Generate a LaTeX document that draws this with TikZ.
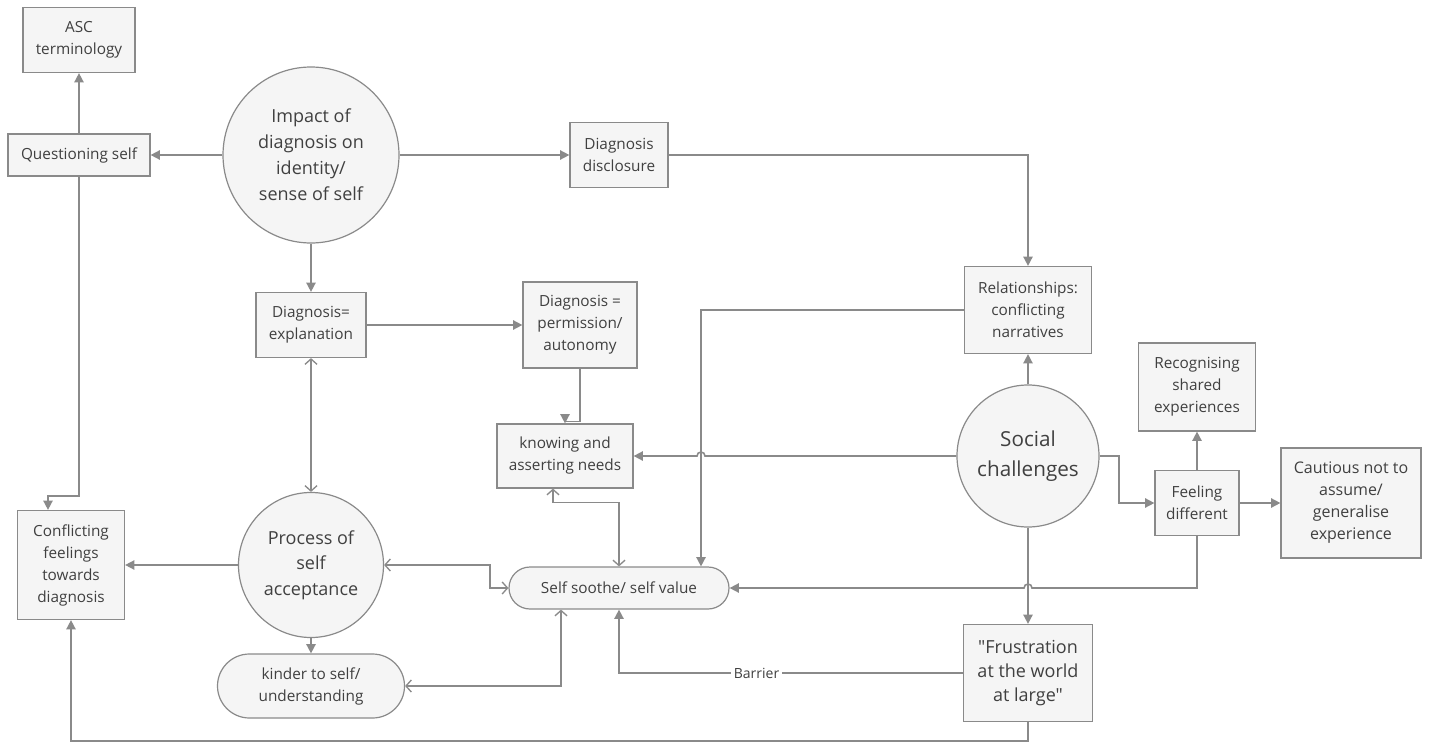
\documentclass[tikz,border=0pt]{standalone}
\usepackage{fontspec}
\setmainfont{Open Sans}[Ligatures=TeXOff]
\usetikzlibrary{arrows.meta}

\definecolor{lngray}{HTML}{8A8A8A}
\definecolor{boxfill}{HTML}{F5F5F5}
\definecolor{txtgray}{HTML}{404040}

\tikzset{
  box/.style={draw=lngray, fill=boxfill, text=txtgray, align=center, inner sep=0pt, line width=0.9pt, font=\fontsize{11.5}{16.5}\selectfont},
  bubble/.style={circle, draw=lngray, fill=boxfill, text=txtgray, align=center, inner sep=0pt, line width=0.9pt},
  pill/.style={box, rounded corners=#1},
  link/.style={draw=lngray, line width=1.2pt, -{Triangle[length=7pt,width=7pt]}},
  twoway/.style={draw=lngray, line width=1pt, {Straight Barb[length=4pt,width=9pt]}-{Straight Barb[length=4pt,width=9pt]}},
}

\begin{document}
\begin{tikzpicture}[x=0.75pt,y=-0.75pt]
			\useasboundingbox (0,0) rectangle (1432,742);

			\node[box, minimum width=84pt, minimum height=48.75pt] (asc) at (79,40) {ASC\\terminology};
			\node[box, minimum width=106.5pt, minimum height=31.5pt] (quest) at (79,155) {Questioning self};
			\node[bubble, minimum size=132pt, font=\fontsize{13.5}{19.5}\selectfont] (impact) at (311,155) {Impact of\\diagnosis on\\identity/\\sense of self};
			\node[box, minimum width=73.5pt, minimum height=48.75pt] (discl) at (619,155) {Diagnosis\\disclosure};
			\node[box, minimum width=95.25pt, minimum height=65.25pt] (rel) at (1028,310) {Relationships:\\conflicting\\narratives};
			\node[box, minimum width=82.5pt, minimum height=48.75pt] (expl) at (311,325) {Diagnosis=\\explanation};
			\node[box, minimum width=85.5pt, minimum height=64.5pt] (perm) at (580,325) {Diagnosis =\\permission/\\autonomy};
			\node[box, minimum width=102pt, minimum height=48pt] (know) at (565,456) {knowing and\\asserting needs};
			\node[bubble, minimum size=106.5pt, font=\fontsize{15.5}{22.5}\selectfont] (social) at (1028,456) {Social\\challenges};
			\node[box, minimum width=87.75pt, minimum height=66pt] (recog) at (1197,387) {Recognising\\shared\\experiences};
			\node[box, minimum width=63pt, minimum height=48.75pt] (feel) at (1197,503) {Feeling\\different};
			\node[box, minimum width=105pt, minimum height=82.5pt, font=\fontsize{12}{16.5}\selectfont] (caut) at (1351,503) {Cautious not to\\assume/\\generalise\\experience};
			\node[box, minimum width=80.25pt, minimum height=81.75pt] (confl) at (71,565) {Conflicting\\feelings\\towards\\diagnosis};
			\node[bubble, minimum size=108.75pt, font=\fontsize{13.5}{19}\selectfont] (accept) at (311,565) {Process of\\self\\acceptance};
			\node[pill=24pt, minimum width=140.25pt, minimum height=48pt] (kind) at (311,686) {kinder to self/\\understanding};
			\node[pill=15.75pt, minimum width=165pt, minimum height=31.5pt] (soothe) at (619,588) {Self soothe/ self value};
			\node[box, minimum width=96.75pt, minimum height=72.75pt, font=\fontsize{13.5}{18}\selectfont] (frust) at (1028,673) {"Frustration\\at the world\\at large"};

			\coordinate (qbend) at (48,496);

			\draw[link] (impact) -- (quest);
			\draw[link] (quest) -- (asc);
			\draw[link] (quest.south) |- (qbend) -- (qbend |- confl.north);
			\draw[link] (impact) -- (discl);
			\draw[link] (discl.east) -| (rel.north);
			\draw[link] (impact) -- (expl);
			\draw[link] (expl) -- (perm);
			\draw[link] (perm.south) -- ++(0,53) -| (know.north);
			\draw[twoway] (expl) -- (accept);
			\draw[twoway] (accept.east) -- (490,565) |- (soothe.west);
			\draw[link] (accept) -- (kind);
			\draw[link] (accept) -- (confl);
			\draw[twoway] (kind.east) -| ([xshift=-43.5pt]soothe.south);
			\draw[twoway] ([xshift=-9pt]know.south) -- ++(0,14) -| (soothe.north);
			\draw[link] (rel.west) -| ([xshift=61.5pt]soothe.north);
			\draw[link] (social.west) -- (705,456) arc[start angle=0, end angle=180, radius=3pt] -- (know.east);
			\draw[link] (social) -- (rel);
			\draw[link] (social.east) -- (1119,456) |- (feel.west);
			\draw[link] (feel) -- (recog);
			\draw[link] (feel) -- (caut);
			\draw[link] (feel.south) |- (1032,588) arc[start angle=0, end angle=180, radius=3pt] -- (soothe.east);
			\draw[link] (social) -- (frust);
			\draw[link] (frust.west) -| node[pos=0.3, fill=white, text=txtgray, inner sep=2pt, font=\fontsize{10.5}{12}\selectfont] {Barrier} (soothe.south);
			\draw[link] (frust.south) -- ++(0,19) -| (confl.south);
		\end{tikzpicture}
\end{document}
